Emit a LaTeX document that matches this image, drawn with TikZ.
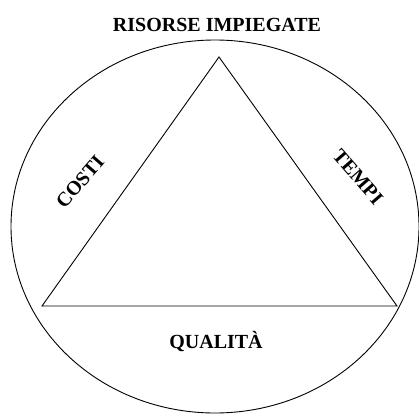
\documentclass[tikz,border=0pt]{standalone}
\usepackage{fontspec}
\setmainfont{Liberation Serif}
\usetikzlibrary{shapes.geometric}
\begin{document}
\begin{tikzpicture}[x=1pt,y=-1pt,
  lbl/.style={font=\bfseries\fontsize{20}{24}\selectfont, inner sep=0pt},
  edge/.style={draw, line width=0.9pt}]
\useasboundingbox (0,0) rectangle (419,414);
\node[edge, ellipse, minimum width=408pt, minimum height=373pt, inner sep=0pt] (ring) at (215,226.5) {};
\coordinate (A) at (219,57);
\coordinate (B) at (42,306);
\coordinate (C) at (397,306);
\draw[edge] (A) -- (B) -- (C) -- cycle;
\node[lbl, anchor=base] (title) at (217,32) {RISORSE IMPIEGATE};
\node[lbl, anchor=base] (qual) at (216,348) {QUALITÀ};
\node[lbl, rotate=49] (costi) at (80,182) {COSTI};
\node[lbl, rotate=-49] (tempi) at (358,177) {TEMPI};
\end{tikzpicture}
\end{document}
